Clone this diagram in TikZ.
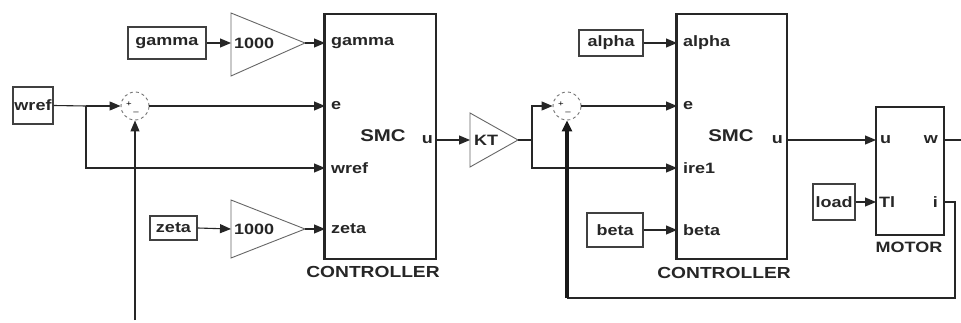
\documentclass[tikz,border=0pt]{standalone}
\usepackage{fontspec}
\setmainfont{Liberation Sans}[FakeStretch=1.2]
\usetikzlibrary{arrows.meta}
\begin{document}
\begin{tikzpicture}[x=1pt,y=-1pt,
  txt/.style={font=\bfseries\fontsize{15}{15}\selectfont, text=black!85, inner sep=0pt},
  blk/.style={draw=black!75, line width=1.3pt, inner sep=0pt, txt},
  ctrl/.style={draw=black!85, line width=1.4pt, inner sep=0pt},
  gainst/.style={draw=black!60, line width=0.9pt},
  sumst/.style={circle, draw=black!55, dashed, line width=0.9pt, minimum size=28pt, inner sep=0pt},
  wire/.style={line width=1.1pt, draw=black!85, -{Triangle[length=11pt,width=9pt]}},
  line/.style={line width=1.1pt, draw=black!85},
  pm/.style={font=\fontsize{8}{8}\selectfont, inner sep=0pt}
]
\useasboundingbox (0,0) rectangle (961,323);
\fill[white] (0,0) rectangle (961,323);

% ---- left part ----
\node[blk, minimum width=40pt, minimum height=37pt] (wref) at (33,105.5) {wref};
\coordinate (j1) at (86,106);
\node[sumst] (s1) at (135,106) {};
\node[pm] at (129,104) {+};
\node[pm] at (136,113) {--};

\node[blk, minimum width=78pt, minimum height=32pt] (gamma) at (167,43) {gamma};
\coordinate (g1in) at (231,43);
\coordinate (g1out) at (305,43);
\draw[gainst] (231,13) -- (305,43) -- (231,76) -- cycle;
\node[txt, anchor=west] (g1t) at (234,43) {1000};

\node[blk, minimum width=47pt, minimum height=24pt] (zeta) at (173.5,228) {zeta};
\coordinate (g2in) at (231,229);
\coordinate (g2out) at (305,229);
\draw[gainst] (231,200) -- (305,229) -- (231,258) -- cycle;
\node[txt, anchor=west] (g2t) at (234,229) {1000};

% controller 1
\node[ctrl, minimum width=111pt, minimum height=245pt] (c1) at (380.5,136.5) {};
\draw[line width=3pt, black!85] (c1.north west) -- (c1.south west);
\coordinate (c1gamma) at (325,43);
\coordinate (c1e) at (325,106);
\coordinate (c1wref) at (325,168);
\coordinate (c1zeta) at (325,229);
\coordinate (c1u) at (436,140);
\node[txt, anchor=west] at (331,43) {gamma};
\node[txt, anchor=west] at (331,106) {e};
\node[txt, anchor=west] at (331,168) {wref};
\node[txt, anchor=west] at (331,229) {zeta};
\node[txt, font=\bfseries\fontsize{17}{17}\selectfont] at (383,136) {SMC};
\node[txt, anchor=east] at (433,140) {u};
\node[txt, font=\bfseries\fontsize{16}{16}\selectfont] at (373,272) {CONTROLLER};

\draw[wire] (gamma.east) -- (g1in);
\draw[wire] (g1out) -- (c1gamma);
\draw[wire] (zeta.east) -- (g2in);
\draw[wire] (g2out) -- (c1zeta);
\draw[line] (wref.east) -- (j1);
\draw[wire] (j1) -- (s1.west);
\draw[wire] (j1) |- (c1wref);
\draw[wire] (s1.east) -- (c1e);
\coordinate (fb1) at (135,320);
\draw[wire] (fb1) -- (s1.south);

% KT gain
\coordinate (ktin) at (470,140);
\coordinate (ktout) at (518,140);
\draw[gainst] (470,113) -- (518,140) -- (470,167) -- cycle;
\node[txt, anchor=west] (ktt) at (474,140) {KT};
\draw[wire] (c1u) -- (ktin);
\coordinate (j2) at (532,140);
\draw[line] (ktout) -- (j2);

% ---- right part ----
\node[sumst] (s2) at (567,106) {};
\node[pm] at (561,104) {+};
\node[pm] at (568,113) {--};

\node[blk, minimum width=64pt, minimum height=26pt] (alpha) at (611,43) {alpha};
\node[blk, minimum width=56pt, minimum height=34pt] (beta) at (615,230) {beta};

\node[ctrl, minimum width=110pt, minimum height=245pt] (c2) at (732,136.5) {};
\draw[line width=2.2pt, black!85] (c2.north west) -- (c2.south west);
\coordinate (c2alpha) at (677,43);
\coordinate (c2e) at (677,106);
\coordinate (c2iref) at (677,168);
\coordinate (c2beta) at (677,230);
\coordinate (c2u) at (787,140);
\node[txt, anchor=west] at (683,43) {alpha};
\node[txt, anchor=west] at (683,106) {e};
\node[txt, anchor=west] at (683,168) {ire1};
\node[txt, anchor=west] at (683,230) {beta};
\node[txt, font=\bfseries\fontsize{17}{17}\selectfont] at (731,136) {SMC};
\node[txt, anchor=east] at (783,140) {u};
\node[txt, font=\bfseries\fontsize{16}{16}\selectfont] at (724,273) {CONTROLLER};

\draw[wire] (j2) |- (s2.west);
\draw[wire] (j2) |- (c2iref);
\draw[wire] (s2.east) -- (c2e);
\draw[wire] (alpha.east) -- (c2alpha);
\draw[wire] (beta.east) -- (c2beta);

% motor
\node[ctrl, minimum width=68pt, minimum height=128pt] (m) at (910,171) {};
\coordinate (mu) at (876,140);
\coordinate (mtl) at (876,202);
\coordinate (mw) at (944,140);
\coordinate (mi) at (944,202);
\node[txt, anchor=west] at (880,140) {u};
\node[txt, anchor=west] at (879,202) {Tl};
\node[txt, anchor=east] at (938,140) {w};
\node[txt, anchor=east] at (938,202) {i};
\node[txt, font=\bfseries\fontsize{15}{15}\selectfont] at (909,247) {MOTOR};
\node[blk, minimum width=42pt, minimum height=36pt] (load) at (834,202) {load};

\draw[wire] (c2u) -- (mu);
\draw[wire] (load.east) -- (mtl);
\coordinate (wend) at (961,140);
\draw[line] (mw) -- (wend);
\coordinate (fr) at (955,298);
\coordinate (fl) at (567,298);
\draw[line] (mi) -| (fr) -- (fl);
\draw[line width=3.5pt, black!90, -{Triangle[length=11pt,width=10pt]}] (fl) -- (s2.south);
\end{tikzpicture}
\end{document}
